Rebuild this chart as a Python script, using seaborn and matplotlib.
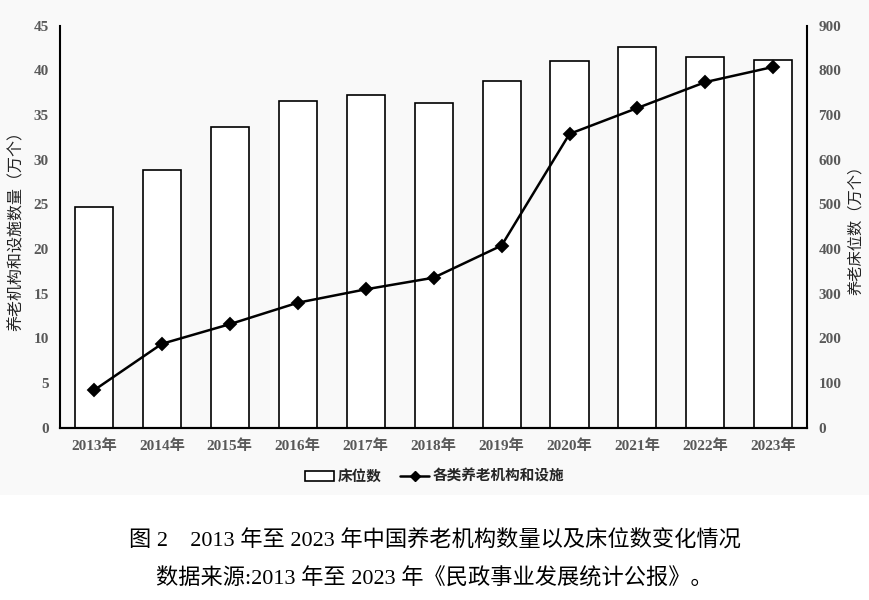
import matplotlib
matplotlib.use("Agg")
import matplotlib.pyplot as plt
import seaborn as sns
import pandas as pd
from matplotlib.patches import Rectangle
from matplotlib.lines import Line2D

# data
years = ["2013年", "2014年", "2015年", "2016年", "2017年", "2018年",
         "2019年", "2020年", "2021年", "2022年", "2023年"]
beds = [494, 578, 673, 731, 745, 727, 776, 822, 852, 830, 823]          # 万个, right axis
institutions = [4.2, 9.4, 11.6, 14.0, 15.5, 16.8, 20.4, 32.9, 35.8, 38.7, 40.4]  # 万个, left axis

df = pd.DataFrame({"year": years, "beds": beds, "inst": institutions})

sns.set_theme(style="white")
plt.rcParams['font.family'] = ['Liberation Serif', 'Noto Sans CJK SC']

fig = plt.figure(figsize=(8.69, 6), dpi=100)
fig.patches.append(Rectangle((0, 0.175), 1, 0.825, transform=fig.transFigure,
                             facecolor="#f9f9f9", edgecolor="none", zorder=-10))

ax = fig.add_axes([0.069, 0.287, 0.860, 0.670])
ax2 = ax.twinx()

tick_col = "#595959"
serif_cjk = ['Liberation Serif', 'Noto Sans CJK SC']

# bars on the right scale
sns.barplot(data=df, x="year", y="beds", ax=ax2, color="white", edgecolor="black",
            linewidth=1.2, width=0.56, saturation=1)
ax2.set_ylim(0, 900)
ax2.set_yticks(range(0, 901, 100))

# line on the left scale
sns.pointplot(data=df, x="year", y="inst", ax=ax, color="black", markers="D",
              markersize=6, linewidth=1.8)
ax.set_ylim(0, 45)
ax.set_yticks(range(0, 46, 5))
ax.set_xlim(-0.5, 10.5)
ax2.set_xlim(-0.5, 10.5)

ax.set_zorder(ax2.get_zorder() + 1)
ax.patch.set_visible(False)
ax2.patch.set_visible(False)

for a in (ax, ax2):
    a.spines["top"].set_visible(False)
    for s in ("left", "right", "bottom"):
        a.spines[s].set_color("black")
        a.spines[s].set_linewidth(1.5)
    a.tick_params(length=0, pad=8)
    a.set_xlabel("")
    a.set_ylabel("")

ax.spines["right"].set_visible(False)
ax2.spines["left"].set_visible(False)

for lab in ax.get_yticklabels() + ax2.get_yticklabels() + ax.get_xticklabels():
    lab.set_family(serif_cjk)
    lab.set_weight("bold")
    lab.set_size(11)
    lab.set_color(tick_col)

ax.set_ylabel("养老机构和设施数量（万个）", fontsize=11.5, color="#222222",
              family=['Noto Sans CJK SC'], labelpad=6)
ax2.set_ylabel("养老床位数（万个）", fontsize=11, color="#222222",
               family=['Noto Sans CJK SC'], labelpad=4)

handles = [Rectangle((0, 0), 1, 1, facecolor="white", edgecolor="black", linewidth=1.2),
           Line2D([0], [0], color="black", marker="D", markersize=5, linewidth=1.8)]
fig.legend(handles, ["床位数", "各类养老机构和设施"], loc="center", bbox_to_anchor=(0.5, 0.207),
           ncol=2, frameon=False, prop=dict(family=['Noto Sans CJK SC'], size=10.5, weight="bold"),
           handlelength=2.0, columnspacing=1.3, handletextpad=0.2)

fig.text(0.5, 0.098, "图 2　2013 年至 2023 年中国养老机构数量以及床位数变化情况",
         ha="center", va="center", fontsize=16, color="black", family=serif_cjk)
fig.text(0.5, 0.035, "数据来源:2013 年至 2023 年《民政事业发展统计公报》。",
         ha="center", va="center", fontsize=16, color="black", family=serif_cjk)

fig.savefig("out.png", dpi=100)
